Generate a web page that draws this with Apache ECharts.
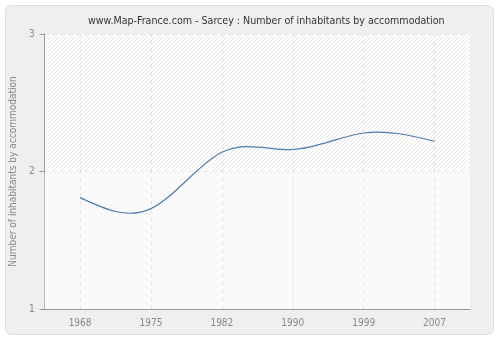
<!DOCTYPE html>
<html>
<head>
<meta charset="utf-8">
<script src="https://cdn.jsdelivr.net/npm/echarts@6/dist/echarts.min.js"></script>
<style>
  html, body { margin: 0; padding: 0; background: #ffffff; }
  #chart { width: 500px; height: 340px; }
</style>
</head>
<body>
<div id="chart"></div>
<script>
// Census years and average number of inhabitants per dwelling
const years = ['1968', '1975', '1982', '1990', '1999', '2007'];
const inhabitants = [1.81, 1.73, 2.14, 2.16, 2.28, 2.22];
const yTicks = [1, 2, 3];

const FONT = '"DejaVu Sans Condensed", "DejaVu Sans", sans-serif';

// Diagonal hatch used as the plot background
function hatch(lineColor) {
  const s = 4;
  const c = document.createElement('canvas');
  c.width = s; c.height = s;
  const g = c.getContext('2d');
  g.fillStyle = '#ffffff';
  g.fillRect(0, 0, s, s);
  g.strokeStyle = lineColor;
  g.lineWidth = 1;
  g.beginPath();
  g.moveTo(0, s); g.lineTo(s, 0);
  g.moveTo(-s / 2, s / 2); g.lineTo(s / 2, -s / 2);
  g.moveTo(s / 2, s * 1.5); g.lineTo(s * 1.5, s / 2);
  g.stroke();
  return { image: c, repeat: 'repeat' };
}

// Natural cubic spline through the projected points, drawn as Bezier pieces
function splineSegments(pts) {
  const n = pts.length;
  const M = new Array(n).fill(0);
  if (n > 2) {
    // tridiagonal solve: M[i-1] + 4M[i] + M[i+1] = 6 * second difference
    const a = [], d = [];
    for (let i = 1; i < n - 1; i++) {
      a.push(4);
      d.push(6 * (pts[i + 1][1] - 2 * pts[i][1] + pts[i - 1][1]));
    }
    for (let i = 1; i < a.length; i++) {
      const w = 1 / a[i - 1];
      a[i] -= w;
      d[i] -= w * d[i - 1];
    }
    const sol = new Array(a.length);
    for (let i = a.length - 1; i >= 0; i--) {
      sol[i] = (d[i] - (i + 1 < a.length ? sol[i + 1] : 0)) / a[i];
    }
    for (let i = 0; i < sol.length; i++) M[i + 1] = sol[i];
  }
  const segs = [];
  for (let i = 0; i < n - 1; i++) {
    const [x0, y0] = pts[i], [x1, y1] = pts[i + 1];
    const dy = y1 - y0;
    const t0 = dy - (2 * M[i] + M[i + 1]) / 6;
    const t1 = dy + (M[i] + 2 * M[i + 1]) / 6;
    const dx = x1 - x0;
    segs.push({
      x1: x0, y1: y0, x2: x1, y2: y1,
      cpx1: x0 + dx / 3, cpy1: y0 + t0 / 3,
      cpx2: x1 - dx / 3, cpy2: y1 - t1 / 3
    });
  }
  return segs;
}

const chart = echarts.init(document.getElementById('chart'), null, { renderer: 'canvas' });
chart.setOption({
  animation: false,
  backgroundColor: '#ffffff',
  graphic: [{
    type: 'rect',
    z: -10,
    shape: { x: 5.5, y: 5.5, width: 488, height: 329, r: 6 },
    style: { fill: '#efefef', stroke: '#dddddd', lineWidth: 1 }
  }],
  title: {
    text: 'www.Map-France.com - Sarcey : Number of inhabitants by accommodation',
    left: 83,
    top: 11,
    textStyle: { fontFamily: FONT, fontSize: 10.6, fontWeight: 'normal', color: '#333333' }
  },
  grid: {
    left: 40, right: 30, top: 34, bottom: 31,
    show: true,
    backgroundColor: hatch('#e6e6e6'),
    borderWidth: 0
  },
  xAxis: {
    type: 'category',
    data: years,
    boundaryGap: true,
    axisLine: { lineStyle: { color: '#999999' } },
    axisTick: { alignWithLabel: true, length: 5, lineStyle: { color: '#999999' } },
    axisLabel: { color: '#888888', fontFamily: FONT, fontSize: 10, margin: 9 },
    splitLine: { show: false }
  },
  yAxis: {
    type: 'value',
    min: yTicks[0], max: yTicks[yTicks.length - 1], interval: 1,
    name: 'Number of inhabitants by accommodation',
    nameLocation: 'middle',
    nameGap: 26,
    nameTextStyle: { color: '#888888', fontFamily: FONT, fontSize: 10 },
    axisLine: { show: true, lineStyle: { color: '#999999' } },
    axisTick: { show: true, length: 5, lineStyle: { color: '#999999' } },
    axisLabel: { color: '#888888', fontFamily: FONT, fontSize: 10, margin: 10 },
    splitLine: { show: true, lineStyle: { color: '#e2e2e2', type: [4, 4] } }
  },
  series: [{
    // lighter lower band plus vertical guides at each census year
    type: 'line',
    data: [],
    silent: true,
    markArea: {
      silent: true,
      itemStyle: { color: 'rgba(250,250,250,0.8)' },
      data: [[{ yAxis: 1 }, { yAxis: 2 }]]
    },
    markLine: {
      silent: true,
      symbol: 'none',
      label: { show: false },
      lineStyle: { color: '#e2e2e2', type: [4, 4], width: 1 },
      data: years.map(y => ({ xAxis: y }))
    }
  }, {
    type: 'custom',
    data: inhabitants.map((v, i) => [i, v]),
    z: 5,
    renderItem: function (params, api) {
      if (params.dataIndex !== 0) return null;
      const pts = [];
      for (let i = 0; i < params.dataInsideLength; i++) {
        pts.push(api.coord([api.value(0, i), api.value(1, i)]));
      }
      return {
        type: 'group',
        children: splineSegments(pts).map(s => ({
          type: 'bezierCurve',
          shape: s,
          style: { stroke: '#4f7bb0', lineWidth: 1.2, fill: null }
        }))
      };
    }
  }]
});
</script>
</body>
</html>
